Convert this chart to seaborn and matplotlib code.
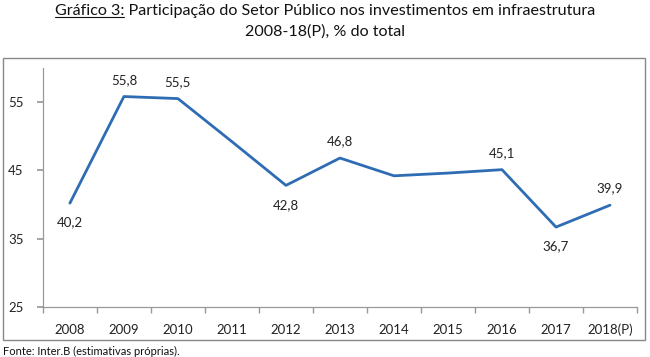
import matplotlib
matplotlib.use("Agg")
import matplotlib.pyplot as plt
import seaborn as sns
import pandas as pd
from matplotlib.patches import Rectangle
from matplotlib.lines import Line2D

years = ["2008", "2009", "2010", "2011", "2012", "2013", "2014", "2015", "2016", "2017", "2018(P)"]
values = [40.2, 55.8, 55.5, 49.2, 42.8, 46.8, 44.2, 44.6, 45.1, 36.7, 39.9]
labels = ["40,2", "55,8", "55,5", "", "42,8", "46,8", "", "", "45,1", "36,7", "39,9"]
label_side = ["below", "above", "above", "", "below", "above", "", "", "above", "below", "above"]
yticks = [25, 35, 45, 55]

title1 = "Gráfico 3:"
title2 = " Participação do Setor Público nos investimentos em infraestrutura"
title_line2 = "2008-18(P), % do total"
src1 = "Fonte:"
src2 = " Inter.B (estimativas próprias)."

sns.set_theme(style="white")
plt.rcParams['font.family'] = ['Lato', 'DejaVu Sans']

fig = plt.figure(figsize=(6.5, 3.57), dpi=100)
ax = fig.add_axes([0.066, 0.14, 0.914, 0.67])

df = pd.DataFrame({"year": years, "value": values, "x": range(len(years))})
sns.lineplot(data=df, x="x", y="value", ax=ax, color="#2E6DB4", linewidth=2.0)

for i, (v, lab, side) in enumerate(zip(values, labels, label_side)):
    if not lab:
        continue
    off = 12 if side == "above" else -14
    ax.annotate(lab, (i, v), xytext=(0, off), textcoords="offset points",
                ha="center", va="center", fontsize=9.5, color="#222222")

ax.set_xlim(-0.5, len(years) - 0.5)
ax.set_ylim(25, 60)
ax.set_yticks(yticks)
ax.set_yticklabels([str(t) for t in yticks], fontsize=9.5, color="#222222")
ax.set_xticks(range(len(years)))
ax.set_xticklabels(years, fontsize=9.5, color="#222222")
ax.set_xlabel("")
ax.set_ylabel("")
ax.tick_params(axis="x", length=0, pad=12)
ax.tick_params(axis="y", length=4, color="#999999", left=True, pad=10)
ax.set_xticks([i - 0.5 for i in range(len(years) + 1)], minor=True)
ax.tick_params(axis="x", which="minor", length=4, color="#999999", bottom=True)
for s in ["top", "right"]:
    ax.spines[s].set_visible(False)
for s in ["left", "bottom"]:
    ax.spines[s].set_color("#999999")
    ax.spines[s].set_linewidth(0.9)

fig.patches.append(Rectangle((0.005, 0.048), 0.988, 0.79, transform=fig.transFigure,
                             fill=False, edgecolor="#888888", linewidth=1.0))

fig.canvas.draw()
renderer = fig.canvas.get_renderer()

def underlined_line(prefix, rest, x, y, ha, fontsize):
    full = fig.text(x, y, prefix + rest, ha=ha, va="baseline", fontsize=fontsize, color="#111111")
    ext = full.get_window_extent(renderer)
    tmp = fig.text(0, 0, prefix, fontsize=fontsize)
    w = tmp.get_window_extent(renderer).width
    tmp.remove()
    x0 = ext.x0 / fig.bbox.width
    x1 = (ext.x0 + w) / fig.bbox.width
    yb = y - 2.0 / fig.bbox.height
    fig.lines.append(Line2D([x0, x1], [yb, yb], transform=fig.transFigure,
                            color="#111111", linewidth=0.8))

underlined_line(title1, title2, 0.5, 0.958, "center", 11.6)
fig.text(0.5, 0.9, title_line2, ha="center", va="baseline", fontsize=11.6, color="#111111")
underlined_line(src1, src2, 0.004, 0.006, "left", 8.0)

fig.savefig("out.png", dpi=100)
